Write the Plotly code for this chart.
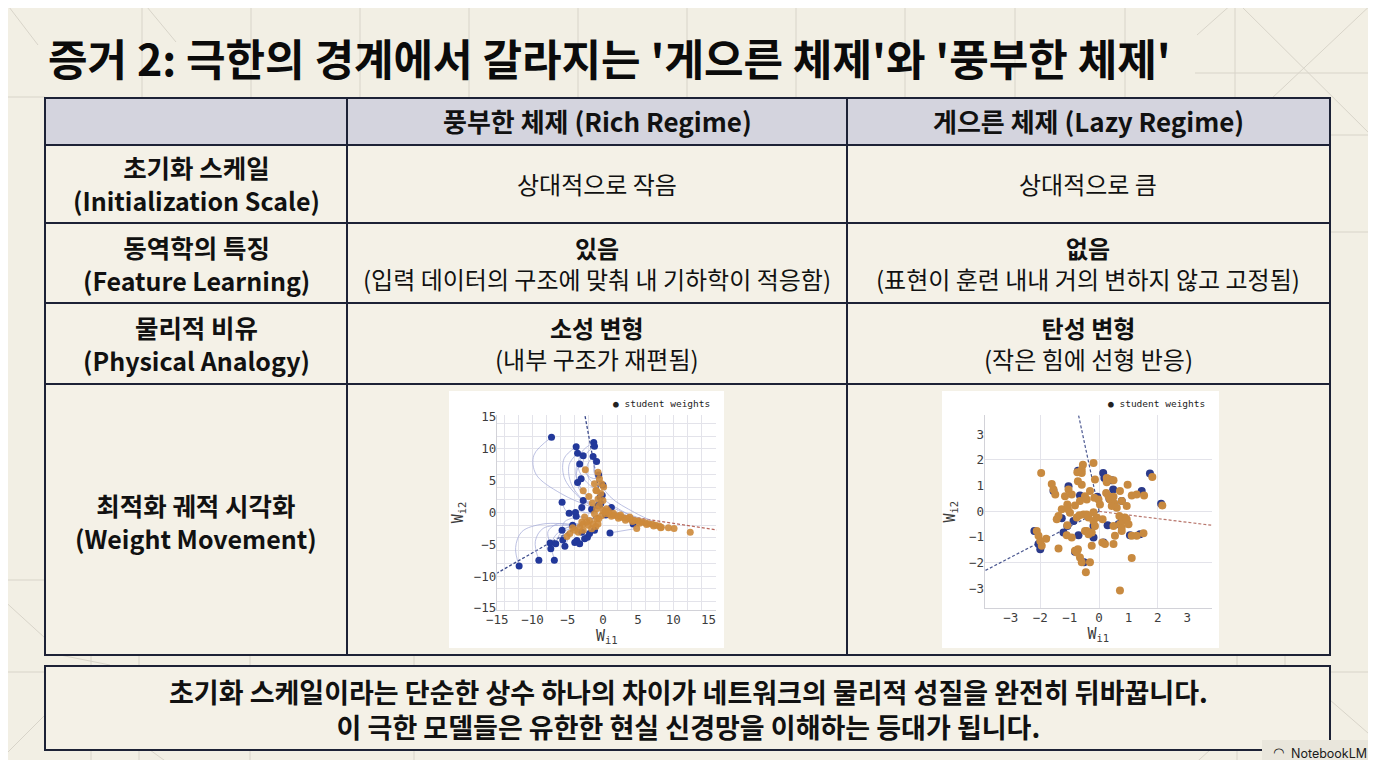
import plotly.graph_objects as go

# the page puts the figure 8px in from the window corner; a 1360x752 figure
# fills the 1376x768 window exactly without scrollbars
WIN = 8
W, H = 1360, 752
KR = "Noto Sans CJK KR"
MONO = "DejaVu Sans Mono"

# ---------------- data ----------------
# rich regime: student weights at initialisation (blue) and after training (orange)
rich_init_x = [-7.3, -3.8, -3.6, -2.8, -1.3, -1.2, -1.4, -0.9, -3.3, -3.1, -3.6, -0.6, 0.0, -0.1,
               -0.3, -0.4, -0.7, 1.2, -2.8, -5.8, -3.0, -4.8, -3.9, -3.8, -4.3, -5.8, -5.7, -7.5,
               -6.7, -7.4, -5.4, -4.0, -3.7, -3.3, -2.6, -2.2, -1.9, -1.2, -3.0, -9.1, -6.9, -11.9,
               1.0, 4.3, -1.6, 0.4]
rich_init_y = [11.8, 10.3, 9.3, 8.9, 11.0, 10.4, 8.8, 8.0, 7.6, 5.3, 4.7, 5.9, 4.3, 2.7,
               1.4, 2.4, 1.1, 0.8, 1.9, 1.6, 0.8, -0.1, 0.0, -0.6, -2.0, -2.8, -4.3, -4.8,
               -4.9, -5.7, -5.3, -4.7, -4.4, -4.9, -4.1, -3.9, -3.3, -2.8, -3.1, -7.5, -7.5, -8.4,
               -3.2, -1.8, 0.5, -0.4]
rich_final_x = [-2.5, -2.8, -0.7, -0.5, -0.2, 0.1, -0.9, -0.7, 0.0, -0.5, -0.9, 0.0, 0.5, -0.2,
                -0.6, -1.5, -1.0, -2.0, -1.2, -0.3,
                -5.1, -4.7, -4.0, -3.3, -2.8, -2.3, -1.9, -3.0, -2.6, -2.1, -1.6, -1.4, -0.9,
                -1.2, -0.7, -2.8, -3.5, -4.3, -1.0,
                0.5, 1.0, 1.5, 2.0, 2.5, 3.0, 3.5, 4.0, 4.5, 5.0, 5.5, 6.0, 6.5, 7.0, 7.5, 8.0,
                8.3, 1.2, 2.2, 3.2, 4.2, 5.2, 6.2, 7.2, 8.2, 4.8, 9.3, 10.1, 12.4, 1.5, 2.5, 3.8,
                0.8, 0.3]
rich_final_y = [6.7, 3.4, 6.3, 5.3, 4.5, 4.0, 3.4, 2.1, 1.9, 1.1, 0.6, 0.3, 0.6, -0.5,
                -1.0, 1.5, 3.5, 2.5, 4.5, 3.0,
                -3.75, -3.3, -2.8, -2.3, -1.8, -1.5, -1.25, -1.5, -0.7, -2.0, -2.55, -1.8, -1.0,
                -0.2, -1.8, -2.8, -3.1, -2.4, -2.2,
                -0.2, -0.3, -0.45, -0.55, -0.7, -0.85, -0.95, -1.1, -1.25, -1.35, -1.5, -1.6,
                -1.75, -1.85, -2.0, -2.1, -2.3, -0.6, -0.9, -1.2, -1.4, -1.7, -1.9, -2.1, -2.4,
                -2.5, -2.4, -2.5, -3.1, -0.1, -0.4, -0.7, 0.2, 0.1]
# optimisation paths (waypoints, start -> end)
rich_paths = [
    [(-7.3, 11.8), (-9.8, 9.0), (-9.5, 6.0), (-6.0, 3.0), (-1.5, 0.8), (3.5, -1.0)],
    [(-3.8, 10.3), (-5.5, 8.5), (-5.5, 5.5), (-3.5, 2.5), (-1.0, 0.6)],
    [(-3.6, 9.3), (-4.8, 7.5), (-4.5, 4.5), (-2.8, 2.0), (-1.5, 1.5)],
    [(-2.8, 8.9), (-3.8, 7.0), (-3.5, 4.5), (-2.0, 2.5)],
    [(-1.3, 11.0), (-3.0, 9.5), (-3.5, 7.0), (-2.5, 5.0), (-1.0, 3.5)],
    [(-1.2, 10.4), (-2.5, 9.0), (-2.8, 7.0), (-1.8, 5.5), (-0.7, 5.3)],
    [(-1.4, 8.8), (-2.2, 7.5), (-2.2, 5.8), (-1.2, 4.5), (-0.2, 4.5)],
    [(-0.9, 8.0), (-1.3, 6.8), (-0.8, 5.0), (0.1, 4.0)],
    [(-1.4, 8.8), (-1.0, 6.0), (1.0, 2.5), (4.5, 0.0), (7.5, -1.6)],
    [(-3.3, 7.6), (-3.8, 6.0), (-3.4, 4.3), (-2.8, 3.4)],
    [(-3.6, 4.7), (-3.3, 3.5), (-2.0, 2.5)],
    [(-0.4, 2.4), (1.5, 1.0), (4.0, -0.5), (6.0, -1.6)],
    [(1.2, 0.8), (3.0, 0.0), (6.0, -1.2), (8.3, -2.1)],
    [(-0.7, 1.1), (2.0, 0.0), (5.0, -1.0), (7.2, -1.9)],
    [(-11.9, -8.4), (-12.4, -5.5), (-11.5, -3.0), (-8.5, -1.8), (-4.0, -1.8), (-2.3, -1.5)],
    [(-9.1, -7.5), (-9.6, -4.5), (-8.5, -2.5), (-5.5, -2.0), (-3.0, -2.3)],
    [(-6.9, -7.5), (-7.2, -6.2), (-7.4, -5.7)],
    [(-7.5, -4.8), (-7.8, -3.0), (-6.5, -1.8), (-3.5, -2.0), (-1.9, -1.25)],
    [(-7.4, -5.7), (-7.0, -4.0), (-5.5, -2.5), (-3.3, -2.3)],
    [(-6.7, -4.9), (-6.2, -3.5), (-5.0, -2.3), (-2.8, -1.8)],
    [(-5.8, -2.8), (-5.5, -1.5), (-4.0, -0.8), (-2.6, -0.7)],
    [(-4.8, -0.1), (-3.8, 0.3), (-2.5, 0.0), (-1.2, -0.2)],
    [(-5.8, 1.6), (-5.2, 0.2), (-3.5, -0.6), (-0.9, -1.0)],
    [(-5.7, -4.3), (-5.5, -3.0), (-4.5, -2.5), (-4.3, -2.4)],
    [(-5.4, -5.3), (-5.0, -4.3), (-4.7, -3.3)],
    [(1.0, -3.2), (4.8, -2.5)],
    [(-2.8, 1.9), (-1.5, 1.2), (0.5, 0.6)],
]
rich_teacher_blue = [(-2.6, 15.5), (-15.5, -9.8)]
rich_teacher_red = [(16.5, -2.8)]

# lazy regime: weights barely move
lazy_final_x = [-1.97, -1.61, -1.55, -1.49, -2.12, -2.06, -2.00, -1.95, -1.80, -1.38, -1.44, -1.38,
                -1.27, -1.16, -1.04, -1.08, -1.06, -0.99, -1.08, -1.10, -0.93, -0.82, -0.72, -0.65,
                -0.59, -0.31, -0.45, -0.93, -0.82, -0.76, -0.65, -0.59, -0.59, -0.59, -0.55, -0.19,
                -0.48, -0.42, -0.36, -0.48, -0.42, -0.36, -0.25, -0.19, -0.14, -0.08, -0.19, -0.42,
                -0.53, -0.67, -0.31, -0.16, -0.02, 0.03, 0.12, 0.11, 0.20, 0.24, 0.26, 0.32, 0.37,
                0.43, 0.49, 0.52, 0.60, 0.43, 0.49, 0.54, 0.69, 0.71, 0.77, 0.80, 0.88, 0.94, 0.94,
                1.00, 0.71, 0.77, 0.97, 0.71, 1.11, 1.11, 1.28, 1.51, 1.11, 1.28, 1.53, 1.81, 2.15,
                -0.14, 0.32, 0.26, 0.49, -0.25, 0.49, -0.72, -0.76, -0.74, 0.77]
lazy_final_y = [1.49, 1.07, 0.85, 0.66, -0.76, -0.95, -1.15, -1.34, -1.06, -1.44, -0.31, -0.18,
                0.08, 0.59, 0.85, 0.27, 0.08, -0.05, -0.54, -0.93, -1.02, -1.53, -1.47, -1.79,
                -1.98, -1.98, -2.37, 0.66, 0.23, -0.24, 0.40, 1.04, 1.62, 1.49, 1.81, 1.88,
                0.59, 0.46, -0.24, -0.76, -0.76, -0.89, -0.82, -0.37, -0.57, -0.24, -0.03, -0.12,
                -0.12, -0.15, 0.79, 0.53, 0.46, 0.27, -0.31, -1.21, -1.27, 0.72, 1.30, 0.59, 0.46,
                0.53, 0.57, 0.31, 0.14, 0.21, -0.57, -0.95, -0.18, -0.50, -0.63, -0.37, -0.24, 0.21,
                -0.31, -0.50, 0.79, 0.40, 1.04, -3.08, -1.81, -0.95, -0.95, -0.85, 0.62, 0.66, 0.62,
                1.34, 0.23, 1.24, 1.26, 1.13, 1.21, -1.34, -1.27, 1.17, -1.60, 1.52, -0.76]
lazy_init_x = [-0.72, 0.14, 0.18, 0.43, -1.55, -1.04, -0.65, 0.48, -0.06, 0.35, 0.77, 1.45, 1.73,
               2.11, -2.20, -2.06, -2.00, -0.82, -0.51, -0.19, 0.15, 0.29, 0.66, 0.77, 1.05, 1.39,
               -1.21, -1.08, -0.70, -0.19, -1.27, -0.87]
lazy_init_y = [1.58, 1.49, 1.30, 1.21, 0.79, 0.98, 0.62, 0.85, 0.57, 0.49, 0.40, 0.79, 1.47,
               0.30, -0.76, -1.27, -1.47, -1.57, -1.98, -1.02, -1.21, -0.54, -0.50, -0.33, -0.93,
               -0.89, -0.82, -0.57, -0.93, -0.57, -0.27, -0.37]
lazy_teacher_blue = [(-0.70, 3.75), (-3.87, -2.30)]
lazy_teacher_red = [(3.83, -0.54)]

# ---------------- slide texts ----------------
title = "증거 2: 극한의 경계에서 갈라지는 '게으른 체제'와 '풍부한 체제'"
col_heads = ["풍부한 체제 (Rich Regime)", "게으른 체제 (Lazy Regime)"]
row_heads = [("초기화 스케일", "(Initialization Scale)"),
             ("동역학의 특징", "(Feature Learning)"),
             ("물리적 비유", "(Physical Analogy)"),
             ("최적화 궤적 시각화", "(Weight Movement)")]
rich_cells = [("상대적으로 작음", None),
              ("있음", "(입력 데이터의 구조에 맞춰 내 기하학이 적응함)"),
              ("소성 변형", "(내부 구조가 재편됨)")]
lazy_cells = [("상대적으로 큼", None),
              ("없음", "(표현이 훈련 내내 거의 변하지 않고 고정됨)"),
              ("탄성 변형", "(작은 힘에 선형 반응)")]
footer = ["초기화 스케일이라는 단순한 상수 하나의 차이가 네트워크의 물리적 성질을 완전히 뒤바꿉니다.",
          "이 극한 모델들은 유한한 현실 신경망을 이해하는 등대가 됩니다."]

BG = "#f2efe4"
NAVY = "#1d2236"
BLUE = "#22389a"
ORANGE = "#cd8a3b"
PATH = "#a3a9d8"


def px(x):
    return (x - WIN) / W


def py(y):
    return 1 - (y - WIN) / H


shapes = []
annotations = []


def line(x0, y0, x1, y1, color, width=1):
    shapes.append(dict(type="line", xref="paper", yref="paper", x0=px(x0), y0=py(y0),
                       x1=px(x1), y1=py(y1), line=dict(color=color, width=width), layer="below"))


def rect(x0, y0, x1, y1, fill, color=NAVY, width=2):
    shapes.append(dict(type="rect", xref="paper", yref="paper", x0=px(x0), y0=py(y0),
                       x1=px(x1), y1=py(y1), fillcolor=fill,
                       line=dict(color=color, width=width), layer="below"))


def text(x, y, s, size, color="#111111", family=KR, xanchor="center"):
    # CJK glyphs sit low in their line box; lift the box a little
    lift = 0.18 * size - 3.5 if family == KR else 0
    annotations.append(dict(x=px(x), y=py(y - lift), xref="paper", yref="paper",
                            text=s, showarrow=False,
                            font=dict(size=size, color=color, family=family),
                            xanchor=xanchor, yanchor="middle"))


# faint background pattern
deco = "#d8d4c9"
for vx in [142, 251, 360, 469, 578, 687, 796, 905, 1015, 1125, 1235]:
    line(vx, 0, vx, 98, deco)
for vx in [91, 139, 250, 414, 1237, 1285]:
    line(vx, 655, vx, 768, deco)
line(0, 97, 45, 97, deco)
line(1195, 73, 1376, 73, deco)
line(1330, 135, 1376, 135, deco)
line(1330, 232, 1376, 232, deco)
line(0, 580, 45, 580, deco)
line(0, 672, 45, 672, deco)
line(1330, 672, 1376, 672, deco)
line(9, 7, 38, 45, deco)
line(147, 7, 176, 42, deco)
line(1235, 0, 1376, 140, deco)
line(1376, 0, 1270, 100, deco)
line(1197, 35, 1233, 3, deco)
line(0, 597, 45, 638, deco)
line(0, 760, 45, 715, deco)
line(1330, 700, 1376, 740, deco)
line(60, 655, 110, 665, deco)
line(150, 750, 175, 768, deco)
line(1210, 750, 1190, 768, deco)

# table
rect(45, 98, 1330, 655, "#f4f1e7")
rect(45, 98, 1330, 145, "#d4d4de")
for hy in [145, 223, 303, 384]:
    line(45, hy, 1330, hy, NAVY, 2)
for vx in [347, 847]:
    line(vx, 98, vx, 655, NAVY, 2)
rect(45, 666, 1330, 750, "#f4f1e7")

# plot cards
rect(449, 391, 724, 648, "white", color="white", width=0)
rect(942, 391, 1219, 648, "white", color="white", width=0)

# texts
text(46, 61, f"<b>{title}</b>", 43, color="#0b0b0b", xanchor="left")
text(597, 122, f"<b>{col_heads[0]}</b>", 26)
text(1088, 122, f"<b>{col_heads[1]}</b>", 26)
row_mid = [184.5, 264, 344, 522]
for (ko, en), ym in zip(row_heads, row_mid):
    text(196, ym, f"<b>{ko}</b><br><b><span style='font-size:25px'>{en}</span></b>", 25.5)
for cx, cells in [(597, rich_cells), (1088, lazy_cells)]:
    for (main, sub), ym in zip(cells, row_mid[:3]):
        if sub is None:
            text(cx, ym, main, 24)
        else:
            text(cx, ym, f"<b>{main}</b><br>{sub}", 24)
text(688, 710, f"<b>{footer[0]}<br>{footer[1]}</b>", 27)

# legends of the two weight plots
text(712, 403, "● student weights", 9.5, color="#222222", family=MONO, xanchor="right")
text(1207, 403, "● student weights", 9.5, color="#222222", family=MONO, xanchor="right")

# NotebookLM badge
shapes.append(dict(type="rect", xref="paper", yref="paper", x0=px(1262), y0=py(766),
                   x1=px(1374), y1=py(740), fillcolor="#e9e6dc", line=dict(width=0),
                   layer="above"))
text(1289, 753, "NotebookLM", 12.5, color="#1a1a1a", family="Inter", xanchor="left")
text(1278, 752, "◠", 13, color="#1a1a1a", family="DejaVu Sans")

fig = go.Figure()

# ---------- rich regime plot (axes x/y: grid, x2/y2: data) ----------
fig.add_trace(go.Scatter(x=[None], y=[None], xaxis="x", yaxis="y", showlegend=False))
for tx, ty in rich_teacher_blue:
    fig.add_trace(go.Scatter(x=[0, tx], y=[0, ty], mode="lines", xaxis="x2", yaxis="y2",
                             line=dict(color="#3b4a8c", width=1.3, dash="3px,2px"),
                             showlegend=False))
for tx, ty in rich_teacher_red:
    fig.add_trace(go.Scatter(x=[0, tx], y=[0, ty], mode="lines", xaxis="x2", yaxis="y2",
                             line=dict(color="#b8665c", width=1.3, dash="3px,2px"),
                             showlegend=False))
for path in rich_paths:
    fig.add_trace(go.Scatter(x=[p[0] for p in path], y=[p[1] for p in path], mode="lines",
                             xaxis="x2", yaxis="y2", line=dict(color=PATH, width=0.8, shape="spline"),
                             opacity=0.9, showlegend=False))
fig.add_trace(go.Scatter(x=rich_init_x, y=rich_init_y, mode="markers", xaxis="x2", yaxis="y2",
                         marker=dict(color=BLUE, size=7), showlegend=False))
fig.add_trace(go.Scatter(x=rich_final_x, y=rich_final_y, mode="markers", xaxis="x2", yaxis="y2",
                         marker=dict(color=ORANGE, size=7, opacity=0.9), showlegend=False))

# ---------- lazy regime plot (axes x3/y3: grid, x4/y4: data) ----------
fig.add_trace(go.Scatter(x=[None], y=[None], xaxis="x3", yaxis="y3", showlegend=False))
for tx, ty in lazy_teacher_blue:
    fig.add_trace(go.Scatter(x=[0, tx], y=[0, ty], mode="lines", xaxis="x4", yaxis="y4",
                             line=dict(color="#4a5790", width=1.2, dash="3px,2px"),
                             showlegend=False))
for tx, ty in lazy_teacher_red:
    fig.add_trace(go.Scatter(x=[0, tx], y=[0, ty], mode="lines", xaxis="x4", yaxis="y4",
                             line=dict(color="#b8766c", width=1.2, dash="3px,2px"),
                             showlegend=False))
fig.add_trace(go.Scatter(x=lazy_init_x, y=lazy_init_y, mode="markers", xaxis="x4", yaxis="y4",
                         marker=dict(color="#2b3a8a", size=8), showlegend=False))
fig.add_trace(go.Scatter(x=lazy_final_x, y=lazy_final_y, mode="markers", xaxis="x4", yaxis="y4",
                         marker=dict(color="#c88a40", size=8), showlegend=False))

grid_axis = dict(showticklabels=False, ticks="", zeroline=False, showgrid=True,
                 gridcolor="#e3e3ea", gridwidth=1, showline=True, linecolor="#d2d2d8",
                 linewidth=1, tick0=0, dtick=2, fixedrange=True)
tick_font = dict(family=MONO, size=12.5, color="#3c3c3c")
title_font = dict(family=MONO, size=15, color="#3c3c3c")
data_axis = dict(showgrid=False, zeroline=False, showline=False, ticks="", tick0=0,
                 tickfont=tick_font, fixedrange=True)

rich_xr, rich_yr = [-15, 16.1], [-15.3, 15.3]
lazy_xr, lazy_yr = [-3.88, 3.83], [-3.77, 3.75]

fig.update_layout(
    width=W, height=H,
    margin=dict(l=0, r=0, t=0, b=0, autoexpand=False),
    paper_bgcolor=BG, plot_bgcolor="white",
    showlegend=False,
    xaxis=dict(grid_axis, domain=[px(497.3), px(716.3)], range=rich_xr, anchor="y"),
    yaxis=dict(grid_axis, domain=[py(610), py(415)], range=rich_yr, anchor="x"),
    xaxis2=dict(data_axis, overlaying="x", anchor="y2", range=rich_xr, dtick=5,
                title=dict(text="W<sub>i1</sub>", font=title_font, standoff=3)),
    yaxis2=dict(data_axis, overlaying="y", anchor="x2", range=rich_yr, dtick=5,
                title=dict(text="W<sub>i2</sub>", font=title_font, standoff=6)),
    xaxis3=dict(grid_axis, domain=[px(985), px(1211.7)], range=lazy_xr, anchor="y3"),
    yaxis3=dict(grid_axis, domain=[py(608.3), py(415)], range=lazy_yr, anchor="x3"),
    xaxis4=dict(data_axis, overlaying="x3", anchor="y4", range=lazy_xr, dtick=1,
                title=dict(text="W<sub>i1</sub>", font=title_font, standoff=3)),
    yaxis4=dict(data_axis, overlaying="y3", anchor="x4", range=lazy_yr, dtick=1,
                title=dict(text="W<sub>i2</sub>", font=title_font, standoff=9)),
    shapes=shapes,
    annotations=annotations,
)

fig.write_html("out.html")
